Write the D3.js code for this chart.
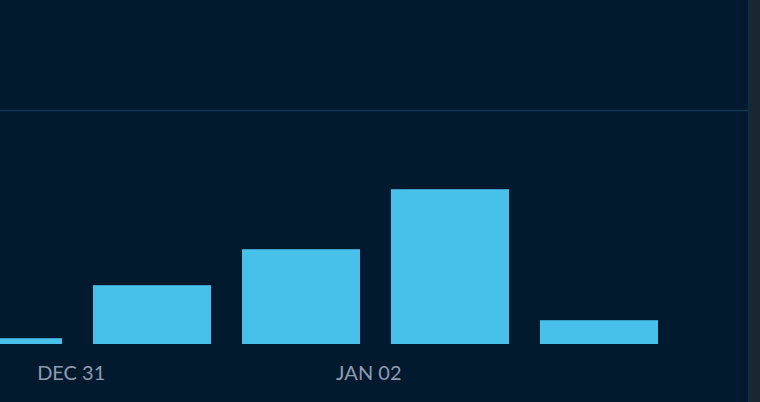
<!DOCTYPE html>
<html><head><meta charset="utf-8">
<script src="https://cdn.jsdelivr.net/npm/d3@7"></script>
<style>
html,body{margin:0;padding:0;background:#021a2d;overflow:hidden}
svg{display:block}
</style></head><body>
<svg id="c" width="760" height="402"></svg>
<script>
const days = ["2019-12-30","2019-12-31","2020-01-01","2020-01-02","2020-01-03"];
const counts = [1, 10.1, 16.2, 26.5, 4.1];
const gridValues = [40];
const tickDays = ["2019-12-31","2020-01-02"];

const W = 760, H = 402;
const parse = d3.utcParse("%Y-%m-%d");
const svg = d3.select("#c");

svg.append("rect").attr("x",0).attr("y",0).attr("width",W).attr("height",H).attr("fill","#021a2d");
svg.append("rect").attr("x",750).attr("y",0).attr("width",10).attr("height",H).attr("fill","#1a2632");
svg.append("rect").attr("x",748).attr("y",0).attr("width",2).attr("height",H).attr("fill","#0c2c46");

const x = d3.scaleUtc().domain([parse("2019-12-31"), parse("2020-01-02")]).range([70.7, 368.3]);
const y = d3.scaleLinear().domain([0, 40]).range([344, 110]);

svg.append("defs").append("clipPath").attr("id","plot")
  .append("rect").attr("x",0).attr("y",0).attr("width",748).attr("height",H);

const g = svg.append("g").attr("clip-path","url(#plot)");

g.selectAll("line.grid").data(gridValues).join("line")
  .attr("class","grid")
  .attr("x1",0).attr("x2",748)
  .attr("y1",d=>Math.round(y(d))+0.5).attr("y2",d=>Math.round(y(d))+0.5)
  .attr("stroke","#0e3555").attr("stroke-width",1.5);

const data = days.map((d,i)=>({date:parse(d), v:counts[i]}));
const step = d => x(d3.utcDay.offset(d,1)) - x(d);
const bx = d => Math.round(x(d.date) + step(d.date)*0.1512);
const bw = d => Math.round(step(d.date)*0.793);
const by = d => Math.round(y(d.v));

const bars = g.selectAll("g.bar").data(data).join("g").attr("class","bar");
bars.append("rect")
  .attr("x", bx).attr("width", bw)
  .attr("y", by)
  .attr("height", d => Math.round(y(0)) - by(d))
  .attr("fill","#48c1ea");
bars.append("rect")
  .attr("x", bx).attr("width", bw)
  .attr("y", by)
  .attr("height", 1)
  .attr("fill","#3b9cc6");

const fmt = d3.utcFormat("%b %d");
const axis = d3.axisBottom(x).tickValues(tickDays.map(parse)).tickSize(0).tickFormat(d=>fmt(d).toUpperCase());
const ax = svg.append("g").attr("transform","translate(0,344)").call(axis);
ax.select(".domain").remove();
ax.selectAll("text")
  .attr("y", 36).attr("dy", 0)
  .attr("fill","#8d9cb0")
  .style("font-family","Lato, 'Open Sans', sans-serif")
  .style("font-size","20px");
</script>
</body></html>
